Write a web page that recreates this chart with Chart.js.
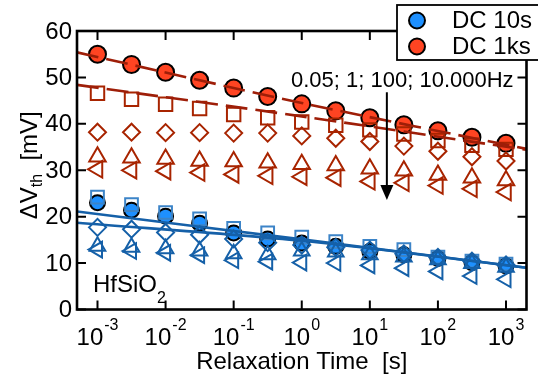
<!DOCTYPE html>
<html><head><meta charset="utf-8">
<script src="https://cdn.jsdelivr.net/npm/chart.js@4"></script>
<style>html,body{margin:0;padding:0;background:#fff}#wrap{position:relative;width:538px;height:381px}</style>
</head><body><div id="wrap"><canvas id="c" width="538" height="381"></canvas></div>
<script>
// ---- data ----
const relaxTime = [0.001, 0.00316, 0.01, 0.0316, 0.1, 0.316, 1, 3.16, 10, 31.6, 100, 316, 1000];
const dc1ks      = [55.0, 52.8, 51.1, 49.4, 47.7, 45.9, 44.3, 42.8, 41.3, 39.8, 38.5, 37.1, 35.8];
const ks_005Hz   = [46.6, 45.3, 44.2, 43.3, 42.0, 41.3, 40.4, 39.7, 38.7, 37.8, 36.4, 35.4, 34.5];
const ks_1Hz     = [38.2, 38.2, 38.1, 38.1, 38.0, 38.0, 37.4, 36.9, 36.2, 35.2, 34.1, 32.9, 32.0];
const ks_100Hz   = [32.9, 32.7, 32.4, 32.0, 31.9, 31.6, 31.3, 31.0, 30.3, 29.9, 29.0, 28.4, 27.8];
const ks_10kHz   = [30.2, 30.0, 29.8, 29.5, 29.1, 28.8, 28.6, 28.4, 27.6, 27.3, 26.7, 26.0, 25.3];
const dc10s      = [23.0, 21.4, 20.1, 18.6, 16.5, 15.2, 14.3, 13.6, 12.5, 11.8, 11.0, 10.1, 9.4];
const s_005Hz    = [24.2, 22.6, 20.9, 19.5, 17.5, 16.5, 15.6, 14.6, 13.6, 12.9, 11.3, 10.4, 9.8];
const s_1Hz      = [17.7, 17.3, 16.6, 16.1, 15.2, 14.4, 13.9, 13.4, 12.8, 12.0, 11.2, 10.4, 9.6];
const s_100Hz    = [13.6, 13.4, 13.1, 12.6, 12.0, 11.8, 12.6, 12.4, 11.8, 11.3, 10.7, 9.9, 9.1];
const s_10kHz    = [12.9, 12.6, 12.2, 11.7, 10.6, 10.3, 10.1, 10.0, 9.5, 8.9, 8.2, 7.2, 6.5];
// fit curves
const fitTime    = [0.0005, 1, 2000];
const fitRedA    = [55.4, 44.5, 34.6];
const fitRedB    = [48.4, 41.6, 34.4];
const fitBlueA   = [21.1, 15.1, 9.0];
const fitBlueB   = [18.7, 14.8, 9.0];
// ticks
const xTickExps  = [-3, -2, -1, 0, 1, 2, 3];
const yTicks     = [0, 10, 20, 30, 40, 50, 60];
const legendLabels = ['DC 10s', 'DC 1ks'];
const freqLabel  = '0.05; 1; 100; 10.000Hz';

const RED_FILL = '#FF4422', BLUE_FILL = '#1E90FF';
const RED_OPEN = '#A82400', RED_LINE = '#9E1E08';
const BLUE_OPEN = '#1560A8', BLUE_SQ = '#3C84C8', BLUE_LINE = '#1560A8';
const FONT = '"Liberation Sans", Arial, sans-serif';

const pts = ys => relaxTime.map((t, i) => ({x: t, y: ys[i]}));
const fpts = ys => fitTime.map((t, i) => ({x: t, y: ys[i]}));

function markers(ys, style, color, r, order, fill, rot) {
  return {type: 'scatter', data: pts(ys), pointStyle: style, pointRadius: r, pointHoverRadius: r,
    pointBorderWidth: 2, borderColor: fill ? '#000' : color, backgroundColor: fill ? color : 'rgba(0,0,0,0)',
    pointBackgroundColor: fill ? color : 'rgba(0,0,0,0)', pointBorderColor: fill ? '#000' : color,
    pointRotation: rot || 0, order: order, showLine: false};
}
function fitLine(ys, color, dash) {
  return {type: 'line', data: fpts(ys), borderColor: color, borderWidth: 2.6, borderDash: dash,
    pointRadius: 0, fill: false, tension: 0.3, order: 0};
}

const datasets = [
  fitLine(fitRedA, RED_LINE, [22, 8]),
  fitLine(fitRedB, RED_LINE, [22, 8]),
  fitLine(fitBlueA, BLUE_LINE, []),
  fitLine(fitBlueB, BLUE_LINE, []),
  markers(ks_10kHz, 'triangle', RED_OPEN, 9.5, 1, false, -90),
  markers(ks_100Hz, 'triangle', RED_OPEN, 9.5, 2, false, 0),
  markers(ks_1Hz, 'rectRot', RED_OPEN, 8.5, 3, false, 0),
  markers(ks_005Hz, 'rect', RED_OPEN, 9.5, 4, false, 0),
  markers(dc1ks, 'circle', RED_FILL, 8.5, 5, true, 0),
  markers(s_10kHz, 'triangle', BLUE_OPEN, 9, 1, false, -90),
  markers(s_100Hz, 'triangle', BLUE_OPEN, 9, 2, false, 0),
  markers(s_1Hz, 'rectRot', BLUE_OPEN, 8.5, 3, false, 0),
  markers(s_005Hz, 'rect', BLUE_SQ, 9, 4, false, 0),
  markers(dc10s, 'circle', BLUE_FILL, 7.5, 5, true, 0),
];

const decor = {
  id: 'decor',
  afterDatasetsDraw(chart) {
    const ctx = chart.ctx, a = chart.chartArea, xs = chart.scales.x, ys = chart.scales.y;
    ctx.save();
    // frame
    ctx.strokeStyle = '#000'; ctx.lineWidth = 2.6;
    ctx.strokeRect(a.left, a.top, a.right - a.left, a.bottom - a.top);
    // ticks
    ctx.lineWidth = 2; const TL = 9;
    ctx.beginPath();
    xTickExps.forEach(e => {
      const px = xs.getPixelForValue(Math.pow(10, e));
      ctx.moveTo(px, a.bottom); ctx.lineTo(px, a.bottom - TL);
      ctx.moveTo(px, a.top); ctx.lineTo(px, a.top + TL);
    });
    yTicks.forEach(v => {
      const py = ys.getPixelForValue(v);
      ctx.moveTo(a.left, py); ctx.lineTo(a.left + TL, py);
      ctx.moveTo(a.right, py); ctx.lineTo(a.right - TL, py);
    });
    ctx.stroke();
    // y tick labels
    ctx.fillStyle = '#000';
    ctx.font = '24px ' + FONT; ctx.textAlign = 'right'; ctx.textBaseline = 'middle';
    yTicks.forEach(v => ctx.fillText(String(v), a.left - 5, ys.getPixelForValue(v) + 1));
    // x tick labels 10^e
    ctx.textBaseline = 'alphabetic'; ctx.textAlign = 'left';
    xTickExps.forEach(e => {
      const px = xs.getPixelForValue(Math.pow(10, e));
      ctx.font = '24px ' + FONT; const wb = ctx.measureText('10').width;
      ctx.font = '16px ' + FONT; const es = String(e).replace('-', '-'); const we = ctx.measureText(es).width;
      const x0 = px - (wb + we + 1) / 2;
      ctx.font = '24px ' + FONT; ctx.fillText('10', x0, a.bottom + 35);
      ctx.font = '16px ' + FONT; ctx.fillText(es, x0 + wb + 1, a.bottom + 20);
    });
    // x title
    ctx.font = '24px ' + FONT; ctx.textAlign = 'center';
    ctx.fillText('Relaxation Time  [s]', (a.left + a.right) / 2, a.bottom + 59);
    // y title (rotated)
    ctx.save();
    ctx.translate(37, (a.top + a.bottom) / 2 - 5);
    ctx.rotate(-Math.PI / 2);
    ctx.font = '24px ' + FONT; const w1 = ctx.measureText('\u0394V').width;
    const w3 = ctx.measureText('  [mV]').width;
    ctx.font = '16px ' + FONT; const w2 = ctx.measureText('th').width;
    let sx = -(w1 + w2 + w3) / 2;
    ctx.textAlign = 'left';
    ctx.font = '24px ' + FONT; ctx.fillText('\u0394V', sx, 0);
    ctx.font = '16px ' + FONT; ctx.fillText('th', sx + w1, 5);
    ctx.font = '24px ' + FONT; ctx.fillText('  [mV]', sx + w1 + w2, 0);
    ctx.restore();
    // material label
    ctx.textAlign = 'left';
    ctx.font = '24px ' + FONT; ctx.fillText('HfSiO', 93, 292);
    const wh = ctx.measureText('HfSiO').width;
    ctx.font = '16px ' + FONT; ctx.fillText('2', 93 + wh, 303);
    // frequency annotation and arrow
    ctx.font = '22px ' + FONT; ctx.fillText(freqLabel, 291, 87);
    const ax = xs.getPixelForValue(Math.pow(10, 1.25));
    const yTop = ys.getPixelForValue(46.8), yBot = ys.getPixelForValue(23.6);
    ctx.strokeStyle = '#000'; ctx.lineWidth = 2;
    ctx.beginPath(); ctx.moveTo(ax, yTop); ctx.lineTo(ax, yBot - 10); ctx.stroke();
    ctx.beginPath(); ctx.moveTo(ax - 6.5, yBot - 15); ctx.lineTo(ax + 6.5, yBot - 15); ctx.lineTo(ax, yBot); ctx.closePath(); ctx.fill();
    // legend
    ctx.fillStyle = '#fff'; ctx.fillRect(397, 5, 150, 55);
    ctx.strokeStyle = '#000'; ctx.lineWidth = 1.8; ctx.strokeRect(397, 5, 150, 55);
    const lcols = [BLUE_FILL, RED_FILL];
    legendLabels.forEach((lab, i) => {
      const cy = 20.5 + i * 26;
      ctx.beginPath(); ctx.arc(417, cy, 8, 0, Math.PI * 2);
      ctx.fillStyle = lcols[i]; ctx.fill(); ctx.lineWidth = 2; ctx.strokeStyle = '#000'; ctx.stroke();
      ctx.fillStyle = '#000'; ctx.font = '24px ' + FONT; ctx.textBaseline = 'middle';
      ctx.fillText(lab, 452, cy + 1);
    });
    ctx.restore();
  }
};

new Chart(document.getElementById('c'), {
  data: {datasets},
  options: {
    responsive: false, animation: false, devicePixelRatio: 1,
    layout: {padding: {left: 77, right: 4, top: 31, bottom: 71.5}},
    plugins: {legend: {display: false}, tooltip: {enabled: false}, title: {display: false}},
    scales: {
      x: {type: 'logarithmic', min: 0.0005, max: 2000, display: false},
      y: {type: 'linear', min: 0, max: 60, display: false}
    }
  },
  plugins: [decor]
});
</script></body></html>
